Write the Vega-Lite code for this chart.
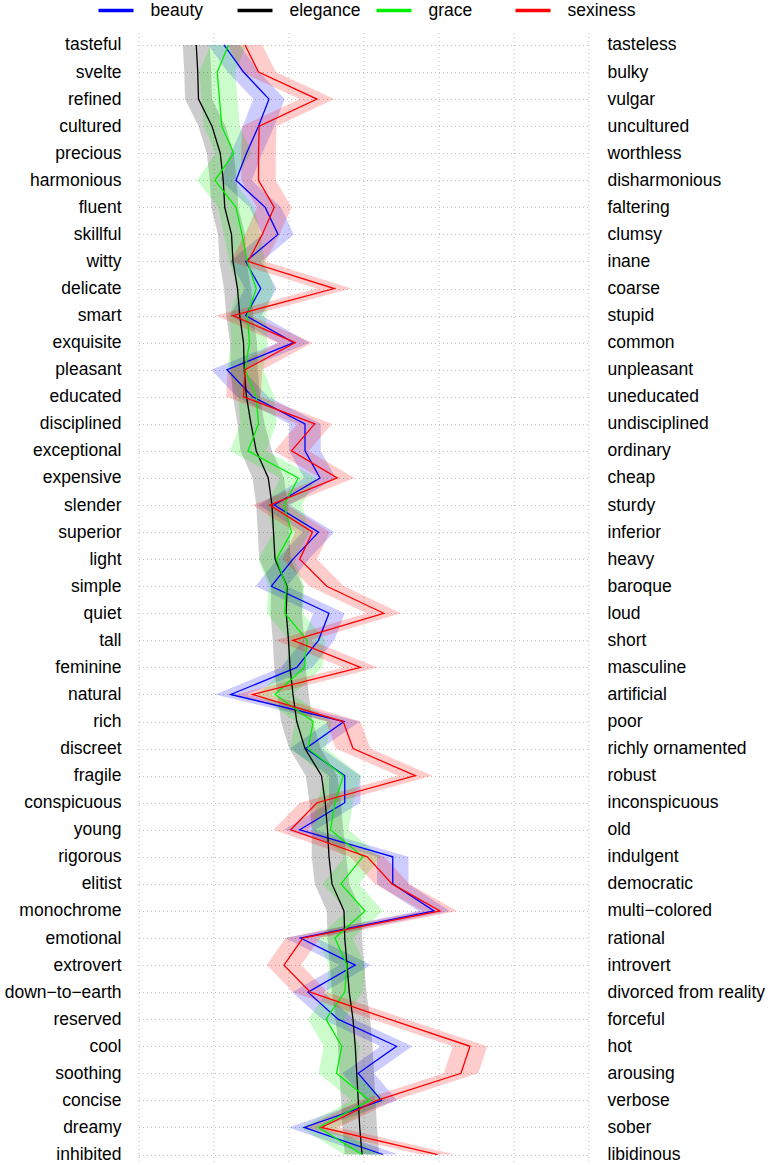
{
"$schema":"https://vega.github.io/schema/vega-lite/v6.json",
"autosize":"none",
"padding":{"left":138.5,"top":30,"right":180.5,"bottom":0},
"width":450,"height":1139.5,
"config":{"font":"Liberation Sans","view":{"stroke":null},"axis":{"gridDash":[1,3],"gridColor":"#bdbdbd","gridWidth":1}},
"datasets":{
"pairs":[
{"i":0,"left":"tasteful","right":"tasteless"},{"i":1,"left":"svelte","right":"bulky"},{"i":2,"left":"refined","right":"vulgar"},{"i":3,"left":"cultured","right":"uncultured"},{"i":4,"left":"precious","right":"worthless"},{"i":5,"left":"harmonious","right":"disharmonious"},{"i":6,"left":"fluent","right":"faltering"},{"i":7,"left":"skillful","right":"clumsy"},{"i":8,"left":"witty","right":"inane"},{"i":9,"left":"delicate","right":"coarse"},{"i":10,"left":"smart","right":"stupid"},{"i":11,"left":"exquisite","right":"common"},{"i":12,"left":"pleasant","right":"unpleasant"},{"i":13,"left":"educated","right":"uneducated"},{"i":14,"left":"disciplined","right":"undisciplined"},{"i":15,"left":"exceptional","right":"ordinary"},{"i":16,"left":"expensive","right":"cheap"},{"i":17,"left":"slender","right":"sturdy"},{"i":18,"left":"superior","right":"inferior"},{"i":19,"left":"light","right":"heavy"},{"i":20,"left":"simple","right":"baroque"},{"i":21,"left":"quiet","right":"loud"},{"i":22,"left":"tall","right":"short"},{"i":23,"left":"feminine","right":"masculine"},{"i":24,"left":"natural","right":"artificial"},{"i":25,"left":"rich","right":"poor"},{"i":26,"left":"discreet","right":"richly ornamented"},{"i":27,"left":"fragile","right":"robust"},{"i":28,"left":"conspicuous","right":"inconspicuous"},{"i":29,"left":"young","right":"old"},{"i":30,"left":"rigorous","right":"indulgent"},{"i":31,"left":"elitist","right":"democratic"},{"i":32,"left":"monochrome","right":"multi−colored"},{"i":33,"left":"emotional","right":"rational"},{"i":34,"left":"extrovert","right":"introvert"},{"i":35,"left":"down−to−earth","right":"divorced from reality"},{"i":36,"left":"reserved","right":"forceful"},{"i":37,"left":"cool","right":"hot"},{"i":38,"left":"soothing","right":"arousing"},{"i":39,"left":"concise","right":"verbose"},{"i":40,"left":"dreamy","right":"sober"},{"i":41,"left":"inhibited","right":"libidinous"}
],
"vals":[
{"i":0,"s":"beauty","m":2.14,"lo":1.93,"hi":2.35},{"i":1,"s":"beauty","m":2.40,"lo":2.19,"hi":2.61},{"i":2,"s":"beauty","m":2.74,"lo":2.53,"hi":2.95},{"i":3,"s":"beauty","m":2.60,"lo":2.39,"hi":2.81},{"i":4,"s":"beauty","m":2.44,"lo":2.23,"hi":2.65},{"i":5,"s":"beauty","m":2.30,"lo":2.09,"hi":2.51},{"i":6,"s":"beauty","m":2.69,"lo":2.48,"hi":2.90},{"i":7,"s":"beauty","m":2.86,"lo":2.65,"hi":3.07},{"i":8,"s":"beauty","m":2.43,"lo":2.22,"hi":2.64},{"i":9,"s":"beauty","m":2.63,"lo":2.42,"hi":2.84},{"i":10,"s":"beauty","m":2.43,"lo":2.22,"hi":2.64},{"i":11,"s":"beauty","m":3.07,"lo":2.86,"hi":3.28},{"i":12,"s":"beauty","m":2.18,"lo":1.97,"hi":2.39},{"i":13,"s":"beauty","m":2.52,"lo":2.31,"hi":2.73},{"i":14,"s":"beauty","m":3.22,"lo":3.01,"hi":3.43},{"i":15,"s":"beauty","m":3.22,"lo":3.01,"hi":3.43},{"i":16,"s":"beauty","m":3.42,"lo":3.21,"hi":3.63},{"i":17,"s":"beauty","m":2.81,"lo":2.60,"hi":3.02},{"i":18,"s":"beauty","m":3.40,"lo":3.19,"hi":3.61},{"i":19,"s":"beauty","m":3.06,"lo":2.85,"hi":3.27},{"i":20,"s":"beauty","m":2.77,"lo":2.56,"hi":2.98},{"i":21,"s":"beauty","m":3.54,"lo":3.33,"hi":3.75},{"i":22,"s":"beauty","m":3.40,"lo":3.19,"hi":3.61},{"i":23,"s":"beauty","m":3.11,"lo":2.90,"hi":3.32},{"i":24,"s":"beauty","m":2.23,"lo":2.02,"hi":2.44},{"i":25,"s":"beauty","m":3.74,"lo":3.53,"hi":3.95},{"i":26,"s":"beauty","m":3.23,"lo":3.02,"hi":3.44},{"i":27,"s":"beauty","m":3.75,"lo":3.54,"hi":3.96},{"i":28,"s":"beauty","m":3.75,"lo":3.54,"hi":3.96},{"i":29,"s":"beauty","m":3.15,"lo":2.94,"hi":3.36},{"i":30,"s":"beauty","m":4.39,"lo":4.18,"hi":4.60},{"i":31,"s":"beauty","m":4.39,"lo":4.18,"hi":4.60},{"i":32,"s":"beauty","m":4.94,"lo":4.73,"hi":5.15},{"i":33,"s":"beauty","m":3.16,"lo":2.95,"hi":3.37},{"i":34,"s":"beauty","m":3.89,"lo":3.68,"hi":4.10},{"i":35,"s":"beauty","m":3.26,"lo":3.05,"hi":3.47},{"i":36,"s":"beauty","m":3.66,"lo":3.45,"hi":3.87},{"i":37,"s":"beauty","m":4.44,"lo":4.23,"hi":4.65},{"i":38,"s":"beauty","m":3.93,"lo":3.72,"hi":4.14},{"i":39,"s":"beauty","m":4.24,"lo":4.03,"hi":4.45},{"i":40,"s":"beauty","m":3.21,"lo":3.00,"hi":3.42},{"i":41,"s":"beauty","m":4.26,"lo":4.05,"hi":4.47},
{"i":0,"s":"elegance","m":1.77,"lo":1.59,"hi":1.95},{"i":1,"s":"elegance","m":1.79,"lo":1.61,"hi":1.97},{"i":2,"s":"elegance","m":1.80,"lo":1.62,"hi":1.98},{"i":3,"s":"elegance","m":1.98,"lo":1.80,"hi":2.16},{"i":4,"s":"elegance","m":2.09,"lo":1.91,"hi":2.27},{"i":5,"s":"elegance","m":2.13,"lo":1.95,"hi":2.31},{"i":6,"s":"elegance","m":2.15,"lo":1.97,"hi":2.33},{"i":7,"s":"elegance","m":2.24,"lo":2.06,"hi":2.42},{"i":8,"s":"elegance","m":2.26,"lo":2.08,"hi":2.44},{"i":9,"s":"elegance","m":2.32,"lo":2.14,"hi":2.50},{"i":10,"s":"elegance","m":2.35,"lo":2.17,"hi":2.53},{"i":11,"s":"elegance","m":2.40,"lo":2.22,"hi":2.58},{"i":12,"s":"elegance","m":2.41,"lo":2.23,"hi":2.59},{"i":13,"s":"elegance","m":2.44,"lo":2.26,"hi":2.62},{"i":14,"s":"elegance","m":2.50,"lo":2.32,"hi":2.68},{"i":15,"s":"elegance","m":2.57,"lo":2.36,"hi":2.78},{"i":16,"s":"elegance","m":2.73,"lo":2.52,"hi":2.94},{"i":17,"s":"elegance","m":2.78,"lo":2.57,"hi":2.99},{"i":18,"s":"elegance","m":2.80,"lo":2.59,"hi":3.01},{"i":19,"s":"elegance","m":2.82,"lo":2.61,"hi":3.03},{"i":20,"s":"elegance","m":2.98,"lo":2.77,"hi":3.19},{"i":21,"s":"elegance","m":2.97,"lo":2.76,"hi":3.18},{"i":22,"s":"elegance","m":3.00,"lo":2.79,"hi":3.21},{"i":23,"s":"elegance","m":3.02,"lo":2.81,"hi":3.23},{"i":24,"s":"elegance","m":3.06,"lo":2.85,"hi":3.27},{"i":25,"s":"elegance","m":3.11,"lo":2.90,"hi":3.32},{"i":26,"s":"elegance","m":3.22,"lo":3.01,"hi":3.43},{"i":27,"s":"elegance","m":3.44,"lo":3.23,"hi":3.65},{"i":28,"s":"elegance","m":3.49,"lo":3.28,"hi":3.70},{"i":29,"s":"elegance","m":3.52,"lo":3.31,"hi":3.73},{"i":30,"s":"elegance","m":3.54,"lo":3.31,"hi":3.77},{"i":31,"s":"elegance","m":3.58,"lo":3.35,"hi":3.81},{"i":32,"s":"elegance","m":3.74,"lo":3.51,"hi":3.97},{"i":33,"s":"elegance","m":3.75,"lo":3.52,"hi":3.98},{"i":34,"s":"elegance","m":3.78,"lo":3.55,"hi":4.01},{"i":35,"s":"elegance","m":3.81,"lo":3.58,"hi":4.04},{"i":36,"s":"elegance","m":3.86,"lo":3.63,"hi":4.09},{"i":37,"s":"elegance","m":3.89,"lo":3.66,"hi":4.12},{"i":38,"s":"elegance","m":3.91,"lo":3.68,"hi":4.14},{"i":39,"s":"elegance","m":3.93,"lo":3.70,"hi":4.16},{"i":40,"s":"elegance","m":3.95,"lo":3.72,"hi":4.18},{"i":41,"s":"elegance","m":3.98,"lo":3.75,"hi":4.21},
{"i":0,"s":"grace","m":2.20,"lo":1.96,"hi":2.44},{"i":1,"s":"grace","m":2.05,"lo":1.81,"hi":2.29},{"i":2,"s":"grace","m":2.08,"lo":1.84,"hi":2.32},{"i":3,"s":"grace","m":2.11,"lo":1.87,"hi":2.35},{"i":4,"s":"grace","m":2.27,"lo":2.03,"hi":2.51},{"i":5,"s":"grace","m":2.02,"lo":1.78,"hi":2.26},{"i":6,"s":"grace","m":2.30,"lo":2.06,"hi":2.54},{"i":7,"s":"grace","m":2.38,"lo":2.14,"hi":2.62},{"i":8,"s":"grace","m":2.45,"lo":2.21,"hi":2.69},{"i":9,"s":"grace","m":2.57,"lo":2.33,"hi":2.81},{"i":10,"s":"grace","m":2.45,"lo":2.21,"hi":2.69},{"i":11,"s":"grace","m":2.48,"lo":2.24,"hi":2.72},{"i":12,"s":"grace","m":2.42,"lo":2.18,"hi":2.66},{"i":13,"s":"grace","m":2.57,"lo":2.33,"hi":2.81},{"i":14,"s":"grace","m":2.60,"lo":2.36,"hi":2.84},{"i":15,"s":"grace","m":2.46,"lo":2.22,"hi":2.70},{"i":16,"s":"grace","m":3.13,"lo":2.89,"hi":3.37},{"i":17,"s":"grace","m":2.94,"lo":2.70,"hi":3.18},{"i":18,"s":"grace","m":3.04,"lo":2.80,"hi":3.28},{"i":19,"s":"grace","m":2.84,"lo":2.60,"hi":3.08},{"i":20,"s":"grace","m":2.97,"lo":2.73,"hi":3.21},{"i":21,"s":"grace","m":2.95,"lo":2.71,"hi":3.19},{"i":22,"s":"grace","m":3.25,"lo":3.01,"hi":3.49},{"i":23,"s":"grace","m":3.21,"lo":2.97,"hi":3.45},{"i":24,"s":"grace","m":2.82,"lo":2.58,"hi":3.06},{"i":25,"s":"grace","m":3.33,"lo":3.09,"hi":3.57},{"i":26,"s":"grace","m":3.26,"lo":3.02,"hi":3.50},{"i":27,"s":"grace","m":3.73,"lo":3.49,"hi":3.97},{"i":28,"s":"grace","m":3.62,"lo":3.38,"hi":3.86},{"i":29,"s":"grace","m":3.56,"lo":3.32,"hi":3.80},{"i":30,"s":"grace","m":3.99,"lo":3.75,"hi":4.23},{"i":31,"s":"grace","m":3.70,"lo":3.46,"hi":3.94},{"i":32,"s":"grace","m":4.02,"lo":3.78,"hi":4.26},{"i":33,"s":"grace","m":3.62,"lo":3.38,"hi":3.86},{"i":34,"s":"grace","m":3.78,"lo":3.54,"hi":4.02},{"i":35,"s":"grace","m":3.75,"lo":3.51,"hi":3.99},{"i":36,"s":"grace","m":3.50,"lo":3.26,"hi":3.74},{"i":37,"s":"grace","m":3.71,"lo":3.47,"hi":3.95},{"i":38,"s":"grace","m":3.64,"lo":3.40,"hi":3.88},{"i":39,"s":"grace","m":4.08,"lo":3.84,"hi":4.32},{"i":40,"s":"grace","m":3.40,"lo":3.16,"hi":3.64},{"i":41,"s":"grace","m":3.98,"lo":3.74,"hi":4.22},
{"i":0,"s":"sexiness","m":2.42,"lo":2.19,"hi":2.65},{"i":1,"s":"sexiness","m":2.60,"lo":2.37,"hi":2.83},{"i":2,"s":"sexiness","m":3.38,"lo":3.15,"hi":3.61},{"i":3,"s":"sexiness","m":2.61,"lo":2.38,"hi":2.84},{"i":4,"s":"sexiness","m":2.60,"lo":2.37,"hi":2.83},{"i":5,"s":"sexiness","m":2.60,"lo":2.37,"hi":2.83},{"i":6,"s":"sexiness","m":2.81,"lo":2.58,"hi":3.04},{"i":7,"s":"sexiness","m":2.65,"lo":2.42,"hi":2.88},{"i":8,"s":"sexiness","m":2.46,"lo":2.23,"hi":2.69},{"i":9,"s":"sexiness","m":3.61,"lo":3.38,"hi":3.84},{"i":10,"s":"sexiness","m":2.26,"lo":2.03,"hi":2.49},{"i":11,"s":"sexiness","m":3.09,"lo":2.86,"hi":3.32},{"i":12,"s":"sexiness","m":2.42,"lo":2.19,"hi":2.65},{"i":13,"s":"sexiness","m":2.40,"lo":2.17,"hi":2.63},{"i":14,"s":"sexiness","m":3.35,"lo":3.12,"hi":3.58},{"i":15,"s":"sexiness","m":3.04,"lo":2.81,"hi":3.27},{"i":16,"s":"sexiness","m":3.65,"lo":3.42,"hi":3.88},{"i":17,"s":"sexiness","m":2.75,"lo":2.52,"hi":2.98},{"i":18,"s":"sexiness","m":3.32,"lo":3.09,"hi":3.55},{"i":19,"s":"sexiness","m":3.15,"lo":2.92,"hi":3.38},{"i":20,"s":"sexiness","m":3.51,"lo":3.28,"hi":3.74},{"i":21,"s":"sexiness","m":4.27,"lo":4.04,"hi":4.50},{"i":22,"s":"sexiness","m":3.06,"lo":2.83,"hi":3.29},{"i":23,"s":"sexiness","m":3.96,"lo":3.73,"hi":4.19},{"i":24,"s":"sexiness","m":2.52,"lo":2.29,"hi":2.75},{"i":25,"s":"sexiness","m":3.73,"lo":3.50,"hi":3.96},{"i":26,"s":"sexiness","m":3.86,"lo":3.63,"hi":4.09},{"i":27,"s":"sexiness","m":4.69,"lo":4.46,"hi":4.92},{"i":28,"s":"sexiness","m":3.38,"lo":3.15,"hi":3.61},{"i":29,"s":"sexiness","m":3.03,"lo":2.80,"hi":3.26},{"i":30,"s":"sexiness","m":4.05,"lo":3.82,"hi":4.28},{"i":31,"s":"sexiness","m":4.38,"lo":4.15,"hi":4.61},{"i":32,"s":"sexiness","m":5.02,"lo":4.79,"hi":5.25},{"i":33,"s":"sexiness","m":3.19,"lo":2.96,"hi":3.42},{"i":34,"s":"sexiness","m":2.94,"lo":2.71,"hi":3.17},{"i":35,"s":"sexiness","m":3.29,"lo":3.06,"hi":3.52},{"i":36,"s":"sexiness","m":4.34,"lo":4.11,"hi":4.57},{"i":37,"s":"sexiness","m":5.42,"lo":5.19,"hi":5.65},{"i":38,"s":"sexiness","m":5.30,"lo":5.07,"hi":5.53},{"i":39,"s":"sexiness","m":4.18,"lo":3.95,"hi":4.41},{"i":40,"s":"sexiness","m":3.44,"lo":3.21,"hi":3.67},{"i":41,"s":"sexiness","m":4.99,"lo":4.76,"hi":5.22}
]},
"layer":[
{"data":{"name":"vals"},
 "transform":[{"lookup":"i","from":{"data":{"name":"pairs"},"key":"i","fields":["left"]}}],
 "mark":{"type":"area","orient":"horizontal","opacity":0.2},
 "encoding":{
  "y":{"field":"left","type":"ordinal","sort":["tasteful","svelte","refined","cultured","precious","harmonious","fluent","skillful","witty","delicate","smart","exquisite","pleasant","educated","disciplined","exceptional","expensive","slender","superior","light","simple","quiet","tall","feminine","natural","rich","discreet","fragile","conspicuous","young","rigorous","elitist","monochrome","emotional","extrovert","down−to−earth","reserved","cool","soothing","concise","dreamy","inhibited"],"scale":{"type":"point","padding":0.554},
       "axis":{"title":null,"ticks":false,"domain":false,"grid":true,"labelFontSize":17.5,"labelFont":"Liberation Sans","labelColor":"#000","labelPadding":17.5,"labelLimit":300}},
  "x":{"field":"lo","type":"quantitative","scale":{"domain":[1,7],"nice":false,"zero":false},
       "axis":{"values":[1,2,3,4,5,6,7],"labels":false,"ticks":false,"domain":false,"title":null,"grid":true}},
  "x2":{"field":"hi"},
  "color":{"field":"s","type":"nominal","scale":{"domain":["beauty","elegance","grace","sexiness"],"range":["#0000ff","#000000","#00ee00","#ff0000"]},
     "legend":{"orient":"none","legendX":-42,"legendY":-39,"direction":"horizontal","columns":4,"gridAlign":"all","title":null,"symbolType":"stroke","symbolSize":1225,"symbolStrokeWidth":3.5,"symbolOpacity":1,"labelFontSize":17.5,"labelFont":"Liberation Sans","labelColor":"#000","labelOffset":15,"columnPadding":8}}
 }},
{"data":{"name":"vals"},
 "transform":[{"lookup":"i","from":{"data":{"name":"pairs"},"key":"i","fields":["left"]}}],
 "mark":{"type":"line","strokeWidth":1.3},
 "encoding":{
  "y":{"field":"left","type":"ordinal","sort":["tasteful","svelte","refined","cultured","precious","harmonious","fluent","skillful","witty","delicate","smart","exquisite","pleasant","educated","disciplined","exceptional","expensive","slender","superior","light","simple","quiet","tall","feminine","natural","rich","discreet","fragile","conspicuous","young","rigorous","elitist","monochrome","emotional","extrovert","down−to−earth","reserved","cool","soothing","concise","dreamy","inhibited"],"scale":{"type":"point","padding":0.554},"axis":null},
  "x":{"field":"m","type":"quantitative"},
  "color":{"field":"s","type":"nominal"}
 }},
{"data":{"name":"pairs"},
 "mark":{"type":"point","opacity":0},
 "encoding":{
  "y":{"field":"right","type":"ordinal","sort":null,"scale":{"type":"point","padding":0.554},
       "axis":{"orient":"right","title":null,"ticks":false,"domain":false,"grid":false,"labelFontSize":17.5,"labelFont":"Liberation Sans","labelColor":"#000","labelPadding":18.5,"labelLimit":300}}
 }}
],
"resolve":{"scale":{"y":"independent"}}
}
